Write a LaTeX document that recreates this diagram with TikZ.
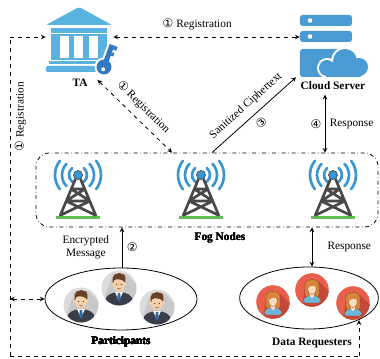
\documentclass[tikz,border=0pt]{standalone}
\usepackage{fontspec}
\setmainfont{Liberation Serif}
\newfontfamily\symfont{DejaVu Sans}
\usetikzlibrary{arrows.meta, shapes.geometric, positioning, calc}

\definecolor{BankColor}{RGB}{90,178,224}
\definecolor{KeyColor}{RGB}{52,122,192}
\definecolor{ServerColor}{RGB}{74,155,212}
\definecolor{WaveColor}{RGB}{58,150,210}
\definecolor{TowerColor}{RGB}{72,72,72}
\definecolor{BaseColor}{RGB}{96,190,84}
\definecolor{ManBack}{RGB}{220,220,220}
\definecolor{ManShade}{RGB}{200,200,200}
\definecolor{SuitColor}{RGB}{58,62,72}
\definecolor{TieColor}{RGB}{52,104,156}
\definecolor{HairColor}{RGB}{104,64,40}
\definecolor{SkinColor}{RGB}{246,208,170}
\definecolor{WomanBack}{RGB}{232,96,76}
\definecolor{WomanShade}{RGB}{198,72,56}
\definecolor{WomanHair}{RGB}{216,134,58}
\definecolor{WomanLine}{RGB}{150,84,40}
\definecolor{FaceColor}{RGB}{252,220,190}
\definecolor{ShirtColor}{RGB}{112,180,218}

\tikzstyle{link} = [line width=0.6pt, ->, >=stealth]
\tikzstyle{dlink} = [line width=0.6pt, dashed, >=stealth]
\tikzset{
  small text/.style={font=\fontsize{8.5}{9.5}\selectfont},
  bold text/.style={font=\fontsize{8.5}{9.5}\selectfont\bfseries},
  crowd/.style={draw, ellipse, line width=0.6pt, minimum width=114pt, minimum height=46.5pt},
  fog box/.style={draw, rounded corners=10pt, dash dot, line width=0.6pt, minimum width=256.5pt, minimum height=55.5pt},
  icon/.style={inner sep=0pt}
}

% circled step number (U+2460 onwards)
\newcommand{\stepno}[1]{{\symfont\fontsize{9}{9}\selectfont\char\numexpr"245F+#1\relax}}

\newcommand{\bankicon}[1]{%
  \begin{scope}[shift={#1}]
    \fill[BankColor, rounded corners=1.5pt] (-33,-15) -- (0,-33) -- (33,-15) -- cycle;
    \fill[BankColor] (-28,-12) rectangle (28,-7);
    \fill[BankColor] (-28,-6) rectangle (28,20);
    \foreach \x in {-19,-4.5,10} \fill[white] (\x,-4) rectangle ++(9,22);
    \fill[BankColor] (-30,21) rectangle (30,24);
    \fill[BankColor, rounded corners=1pt] (-33,26) rectangle (33,32);
  \end{scope}
}

\newcommand{\keyicon}[1]{%
  \begin{scope}[shift={#1}, rotate=-20]
    % white edge round the key
    \fill[white] (0,0) circle (9.5);
    \fill[white] (-4.5,-4) rectangle (8,-25.5);
    \fill[KeyColor] (0,0) circle (7.5);
    \fill[KeyColor] (-2.5,-4) rectangle (2.5,-23.5);
    \fill[KeyColor] (2.5,-23.5) rectangle (6,-19.5);
    \fill[KeyColor] (2.5,-16.5) rectangle (5,-13);
    \fill[white] (0,2.5) circle (2);
  \end{scope}
}

\newcommand{\servericon}[1]{%
  \begin{scope}[shift={#1}]
    \foreach \y in {-22,-6} {
      \fill[ServerColor, rounded corners=2pt] (-26,\y) rectangle (26,\y+11);
      \fill[white] (-16,\y+5.5) circle (2.3);
    }
    \fill[ServerColor, rounded corners=2pt] (-26,12) rectangle (26,40);
    % cloud over the lower rack
    \fill[white] (1,31) circle (10) (19,24) circle (14) (33,30) circle (11) (0,28) rectangle (37,42);
    \fill[ServerColor] (1,31) circle (8) (19,24) circle (12) (33,30) circle (9);
    \fill[ServerColor, rounded corners=2pt] (1,28) rectangle (36,40);
  \end{scope}
}

\newcommand{\towericon}[1]{%
  \begin{scope}[shift={#1}]
    \foreach \rad/\ang in {9/50,16/44,23/38} {
      \draw[WaveColor, line width=2pt, line cap=round] (\ang:\rad) arc(\ang:-\ang:\rad);
      \draw[WaveColor, line width=2pt, line cap=round] ({180-\ang}:\rad) arc({180-\ang}:{180+\ang}:\rad);
    }
    \fill[BaseColor] (-22,41) rectangle (22,44);
    \draw[TowerColor, line width=2pt, line join=round]
      (-18,41) -- (-2.5,4) (18,41) -- (2.5,4)
      (-7,14) -- (7,14) (-12,26) -- (12,26)
      (-7,14) -- (12,26) (7,14) -- (-12,26)
      (-12,26) -- (17,40) (12,26) -- (-17,40);
    \fill[WaveColor, draw=TowerColor, line width=0.5pt] (0,0) circle (4.5);
  \end{scope}
}

\newcommand{\manicon}[1]{%
  \begin{scope}[shift={#1}]
    \fill[ManBack] (0,0) circle (17.5);
    \begin{scope}
      \clip (0,0) circle (17.5);
      \fill[ManShade] (-6,-14) -- (7,-14) -- (35,14) -- (14,35) -- (-14,8) -- cycle;
      \fill[SuitColor, rounded corners=3pt] (-14,24) -- (-14,9) -- (-5,4) -- (5,4) -- (14,9) -- (14,24) -- cycle;
      \fill[SkinColor!85!black] (-3,0) rectangle (3,5);
      \fill[white] (-4,4) -- (4,4) -- (0,13) -- cycle;
      \fill[TieColor] (-1.2,5) -- (1.2,5) -- (1.8,11) -- (0,14) -- (-1.8,11) -- cycle;
      \fill[SkinColor] (-6,-4) circle (1.8) (6,-4) circle (1.8);
      \fill[SkinColor] (0,-4) ellipse (5.8 and 7.5);
      \fill[HairColor] (-6.2,-4) -- (-6.4,-10) .. controls (-6,-16) and (6,-17) .. (6.4,-10)
        -- (6.2,-5) .. controls (5,-8) and (1,-9) .. (-3,-8.5) .. controls (-5,-8) .. (-6.2,-4) -- cycle;
      \fill[black!75] (-2.3,-3.5) circle (0.7) (2.3,-3.5) circle (0.7);
      \draw[black!60, line width=0.4pt] (-1.8,0) .. controls (0,1.5) .. (1.8,0);
    \end{scope}
  \end{scope}
}

\newcommand{\womanicon}[1]{%
  \begin{scope}[shift={#1}]
    \fill[WomanBack] (0,0) circle (16.5);
    \begin{scope}
      \clip (0,0) circle (16.5);
      \fill[WomanShade] (-7,-8) -- (7,-8) -- (35,20) -- (18,37) -- (-9,13) -- cycle;
      \fill[WomanHair, draw=WomanLine, line width=0.3pt, rounded corners=2pt] (-7,7) -- (-7,-3) .. controls (-7,-12) and (7,-12) .. (7,-3) -- (7,7) -- cycle;
      \fill[ShirtColor, draw=WomanLine, line width=0.3pt, rounded corners=2pt] (-9,13) -- (-9,9) -- (-3,5) -- (3,5) -- (9,9) -- (9,13) -- cycle;
      \fill[FaceColor] (-2,2) rectangle (2,6) (-2.5,5) -- (0,8.5) -- (2.5,5) -- cycle;
      \fill[FaceColor, draw=WomanLine, line width=0.3pt] (0,-1) ellipse (4.5 and 5.5);
      \fill[WomanHair] (-5,-1) .. controls (-5,-8) and (3,-9) .. (5,-3) .. controls (3,-5) and (-2,-5) .. (-5,-1) -- cycle;
    \end{scope}
  \end{scope}
}

\begin{document}
\begin{tikzpicture}[x=0.75pt, y=-0.75pt]
\useasboundingbox (0,0) rectangle (380,359);

% Trusted authority and cloud server
\bankicon{(79,40)}
\keyicon{(104,67)}
\servericon{(326,37)}
\node[icon, minimum width=50.25pt, minimum height=48pt] (bank) at (79.5,37) {};
\node[icon, minimum width=39pt, minimum height=48pt] (server) at (326,37) {};
\node[bold text] (ta) at (80,83) {TA};
\node[bold text] (cloud) at (333,86) {Cloud Server};

% Fog layer
\node[fog box] (fog) at (207,190) {};
\foreach \x in {78,201,333} \towericon{(\x,175)}
\node[bold text] (foglbl) at (220,238) {Fog Nodes};

% Participants and data requesters
\node[crowd] (part) at (121,299) {};
\node[crowd, minimum width=104pt] (req) at (309,298) {};
\foreach \x/\y in {81/305,119/288,157/307} \manicon{(\x,\y)}
\foreach \x/\y in {273/302,312/290,353/303} \womanicon{(\x,\y)}
\node[bold text] (partlbl) at (121,342) {Participants};
\node[bold text] (reqlbl) at (312,343) {Data Requesters};

% Registration paths
\coordinate (corner) at (10,37);
\coordinate (lowleft) at (10,356);
\coordinate (lowright) at (359,356);
\draw[dlink, <->] (bank.east) -- node[small text, above=2pt, pos=0.45] {\stepno{1} Registration} (server.west);
\draw[dlink, ->] (corner) -- (bank.west);
\draw[dlink] (lowleft) -- node[small text, sloped, below, pos=0.75] {\stepno{1} Registration} (corner);
\draw[dlink] (lowleft) -- (lowright);
\draw[dlink, ->] (lowright) -- (req.south east -| lowright);
\draw[dlink, <->] (part.west -| corner) -- (part.west);
\draw[dlink, <->] ([xshift=4pt,yshift=-4pt]ta.north east) -- node[small text, sloped, above=1.5pt] {\stepno{1} Registration} (fog.north -| 172,0);

% Data flow
\draw[link] (fog.north -| 212,0) -- node[small text, sloped, above=1.5pt] {Sanitized Ciphertext} node[small text, sloped, below=1pt] {\stepno{3}} (cloud.north west);
\draw[link, <->] (cloud.south -| 325,0) -- node[small text, left=-1pt] {\stepno{4}} node[small text, right] {Response} (fog.north -| 325,0);
\draw[link] (part.north -| 122,0) -- node[small text, left=6pt, align=center] {Encrypted\\Message} node[small text, right] {\stepno{2}} (fog.south -| 122,0);
\draw[link, <->] (fog.south -| 312,0) -- node[small text, right=8pt] {Response} (req.north -| 312,0);
\end{tikzpicture}
\end{document}
